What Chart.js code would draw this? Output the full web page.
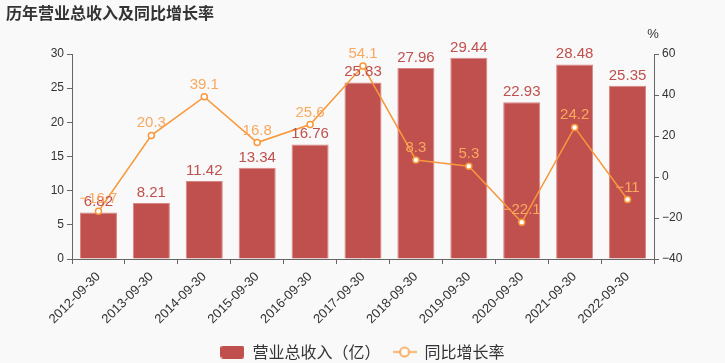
<!DOCTYPE html>
<html>
<head>
<meta charset="utf-8">
<script src="https://cdn.jsdelivr.net/npm/chart.js@4/dist/chart.umd.min.js"></script>
<style>
  html, body { margin: 0; padding: 0; background: #f9f9f9; }
  #wrap { width: 725px; height: 363px; position: relative; }
</style>
</head>
<body>
<div id="wrap"><canvas id="chart" width="725" height="363"></canvas></div>
<script>
// 历年营业总收入及同比增长率
const periods = ['2012-09-30', '2013-09-30', '2014-09-30', '2015-09-30', '2016-09-30', '2017-09-30',
  '2018-09-30', '2019-09-30', '2020-09-30', '2021-09-30', '2022-09-30'];
const revenue = [6.82, 8.21, 11.42, 13.34, 16.76, 25.83, 27.96, 29.44, 22.93, 28.48, 25.35];
const growth = [-16.7, 20.3, 39.1, 16.8, 25.6, 54.1, 8.3, 5.3, -22.1, 24.2, -11];
const leftTicks = [0, 5, 10, 15, 20, 25, 30];
const rightTicks = [-40, -20, 0, 20, 40, 60];

const FONT = '"Liberation Sans", "Noto Sans CJK SC", sans-serif';
const BAR_COLOR = '#c0504d';
const LINE_COLOR = '#f7983a';
const LINE_LABEL = '#f9a85e';

function fmt(v) {
  return String(v).replace('-', '\u2212');
}

// legend swatches
function makeBarSwatch() {
  const c = document.createElement('canvas');
  c.width = 24; c.height = 13;
  const g = c.getContext('2d');
  g.fillStyle = BAR_COLOR;
  g.beginPath();
  g.roundRect(0, 0, 24, 13, 3);
  g.fill();
  return c;
}
function makeLineSwatch() {
  const c = document.createElement('canvas');
  c.width = 24; c.height = 13;
  const g = c.getContext('2d');
  g.strokeStyle = LINE_COLOR;
  g.lineWidth = 1.5;
  g.beginPath(); g.moveTo(0, 6.5); g.lineTo(24, 6.5); g.stroke();
  g.fillStyle = '#fff';
  g.beginPath(); g.arc(12, 6.5, 4.5, 0, Math.PI * 2); g.fill(); g.stroke();
  return c;
}

const extras = {
  id: 'extras',
  afterDatasetsDraw(chart) {
    const ctx = chart.ctx;
    ctx.save();
    ctx.font = '15px ' + FONT;
    ctx.textAlign = 'center';
    ctx.textBaseline = 'alphabetic';
    // bar labels
    ctx.fillStyle = BAR_COLOR;
    chart.getDatasetMeta(0).data.forEach((el, i) => {
      ctx.fillText(fmt(revenue[i]), el.x, el.y - 6);
    });
    // line labels
    ctx.fillStyle = LINE_LABEL;
    chart.getDatasetMeta(1).data.forEach((el, i) => {
      ctx.fillText(fmt(growth[i]), el.x, el.y - 8);
    });
    ctx.restore();
  },
  afterDraw(chart) {
    const ctx = chart.ctx;
    ctx.save();
    ctx.fillStyle = '#333';
    ctx.font = 'bold 16px "Noto Sans CJK SC", sans-serif';
    ctx.textAlign = 'left';
    ctx.textBaseline = 'middle';
    ctx.fillText('历年营业总收入及同比增长率', 6, 13);
    ctx.font = '13px ' + FONT;
    ctx.textAlign = 'center';
    ctx.fillText('%', chart.scales.y1.left - 1, 34);
    ctx.restore();
  }
};

new Chart(document.getElementById('chart'), {
  data: {
    labels: periods,
    datasets: [
      {
        type: 'bar',
        label: '营业总收入（亿）',
        data: revenue,
        yAxisID: 'y',
        backgroundColor: BAR_COLOR,
        borderColor: '#d98583',
        borderWidth: 1,
        categoryPercentage: 0.7,
        barPercentage: 1,
        order: 1
      },
      {
        type: 'line',
        label: '同比增长率',
        data: growth,
        yAxisID: 'y1',
        borderColor: LINE_COLOR,
        borderWidth: 1.5,
        pointRadius: 3,
        pointBorderWidth: 1.5,
        pointBackgroundColor: '#fff',
        pointBorderColor: LINE_COLOR,
        tension: 0,
        order: 0
      }
    ]
  },
  options: {
    responsive: false,
    animation: false,
    devicePixelRatio: 1,
    layout: { padding: { top: 54, left: 0, right: 0, bottom: -7 } },
    plugins: {
      tooltip: { enabled: false },
      legend: {
        position: 'bottom',
        labels: {
          usePointStyle: true,
          pointStyleWidth: 24,
          padding: 12,
          color: '#333',
          font: { size: 16, family: '"Noto Sans CJK SC", sans-serif' },
          sort: (a, b) => a.datasetIndex - b.datasetIndex,
          generateLabels(chart) {
            return chart.data.datasets.map((ds, i) => ({
              text: ds.label,
              datasetIndex: i,
              pointStyle: i === 0 ? makeBarSwatch() : makeLineSwatch(),
              fillStyle: 'transparent',
              strokeStyle: 'transparent',
              lineWidth: 0,
              fontColor: '#333',
              hidden: false
            }));
          }
        }
      }
    },
    scales: {
      x: {
        afterFit(s) { s.height = 73; },
        grid: { drawOnChartArea: false, drawTicks: true, tickLength: 5, color: '#666', offset: true },
        border: { color: '#666' },
        ticks: {
          color: '#333', font: { size: 13, family: FONT }, padding: 5,
          maxRotation: 45, minRotation: 45, autoSkip: false
        }
      },
      y: {
        position: 'left',
        min: 0, max: 30,
        afterFit(s) { s.width = 72; },
        afterBuildTicks(s) { s.ticks = leftTicks.map(v => ({ value: v })); },
        grid: { drawOnChartArea: false, drawTicks: true, tickLength: 5, color: '#666' },
        border: { color: '#666' },
        ticks: { color: '#333', font: { size: 12, family: FONT }, padding: 3 }
      },
      y1: {
        position: 'right',
        min: -40, max: 60,
        afterFit(s) { s.width = 71; },
        afterBuildTicks(s) { s.ticks = rightTicks.map(v => ({ value: v })); },
        grid: { drawOnChartArea: false, drawTicks: true, tickLength: 5, color: '#666' },
        border: { color: '#666' },
        ticks: { color: '#333', font: { size: 12, family: FONT }, padding: 3, callback: v => fmt(v) }
      }
    }
  },
  plugins: [extras]
});
</script>
</body>
</html>
